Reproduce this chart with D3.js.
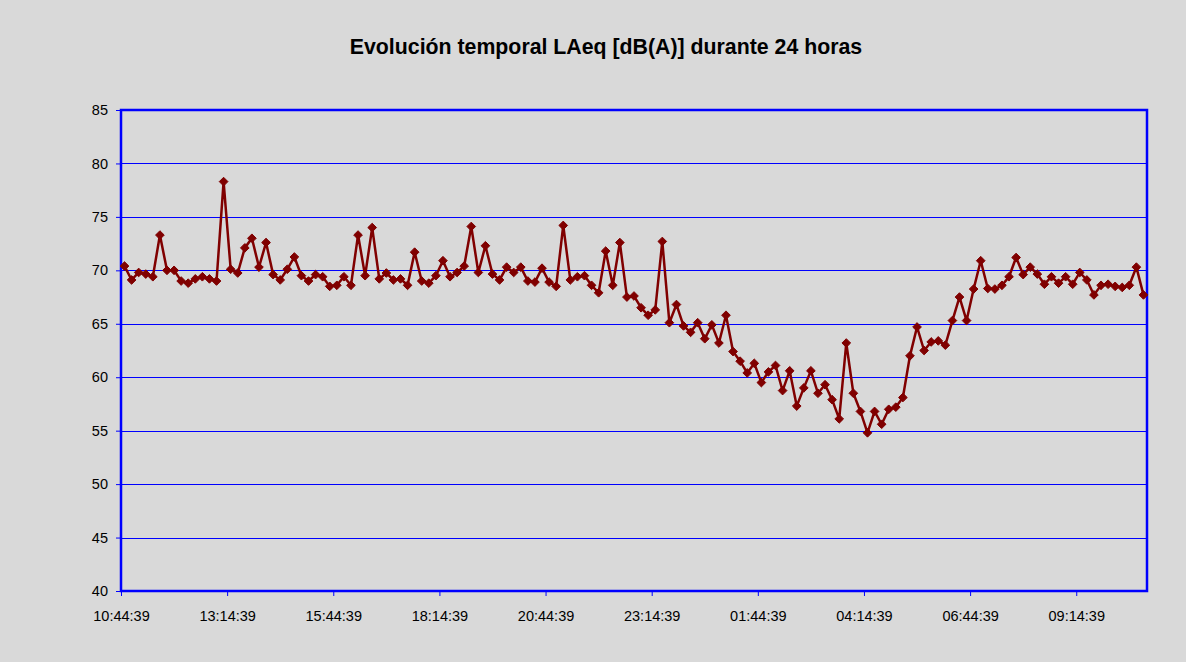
<!DOCTYPE html>
<html>
<head>
<meta charset="utf-8">
<script src="https://cdn.jsdelivr.net/npm/d3@7"></script>
<style>
  body { margin: 0; background: #d9d9d9; }
  svg { display: block; font-family: "Liberation Sans", Arial, sans-serif; }
</style>
</head>
<body>
<svg width="1186" height="662"></svg>
<script>
// LAeq every 10 min, 145 samples starting at 10:44:39
const laeq = [
  70.4, 69.1, 69.8, 69.65, 69.4, 73.3, 70.0, 70.0, 69.0, 68.8,
  69.2, 69.4, 69.2, 69.0, 78.3, 70.1, 69.75, 72.1, 73.0, 70.3,
  72.6, 69.6, 69.1, 70.1, 71.25, 69.5, 69.0, 69.6, 69.4, 68.5,
  68.6, 69.4, 68.6, 73.3, 69.5, 74.0, 69.2, 69.75, 69.1, 69.2,
  68.6, 71.7, 69.0, 68.8, 69.5, 70.9, 69.4, 69.8, 70.4, 74.1,
  69.8, 72.3, 69.65, 69.1, 70.3, 69.8, 70.3, 69.0, 68.9, 70.2,
  68.9, 68.5, 74.2, 69.1, 69.4, 69.5, 68.6, 67.9, 71.8, 68.6,
  72.6, 67.5, 67.6, 66.5, 65.8, 66.3, 72.7, 65.1, 66.8, 64.8,
  64.2, 65.1, 63.6, 64.9, 63.2, 65.8, 62.4, 61.5, 60.4, 61.3,
  59.5, 60.5, 61.1, 58.75, 60.6, 57.3, 59.0, 60.6, 58.5, 59.3,
  57.9, 56.1, 63.2, 58.5, 56.8, 54.8, 56.8, 55.6, 57.0, 57.2,
  58.1, 62.0, 64.7, 62.5, 63.3, 63.4, 63.0, 65.3, 67.5, 65.3,
  68.25, 70.9, 68.3, 68.25, 68.6, 69.4, 71.2, 69.6, 70.3, 69.65,
  68.7, 69.4, 68.8, 69.4, 68.7, 69.8, 69.1, 67.7, 68.6, 68.7,
  68.5, 68.4, 68.6, 70.3, 67.7
];

const tickLabels = ["10:44:39", "13:14:39", "15:44:39", "18:14:39", "20:44:39",
                    "23:14:39", "01:44:39", "04:14:39", "06:44:39", "09:14:39"];
const labelStep = 15;
const yTicks = [40, 45, 50, 55, 60, 65, 70, 75, 80, 85];
const title = "Evolución temporal LAeq [dB(A)] durante 24 horas";

const svg = d3.select('svg');
const plotL = 121, plotR = 1147, plotT = 110, plotB = 591;

const x = d3.scaleBand()
    .domain(d3.range(laeq.length))
    .range([plotL, plotR]);

const y = d3.scaleLinear()
    .domain([40, 85])
    .range([plotB, plotT]);

svg.append('text')
    .attr('x', 606)
    .attr('y', 54)
    .attr('text-anchor', 'middle')
    .attr('font-size', '21.3px')
    .attr('font-weight', 'bold')
    .attr('fill', '#000')
    .text(title);

// gridlines
svg.append('g')
  .selectAll('line')
  .data(yTicks.slice(1, -1))
  .enter().append('line')
    .attr('x1', plotL).attr('x2', plotR)
    .attr('y1', d => Math.round(y(d)) + 0.5)
    .attr('y2', d => Math.round(y(d)) + 0.5)
    .attr('stroke', '#0000ff')
    .attr('stroke-width', 1);

// y axis
const yAxis = svg.append('g')
    .attr('transform', `translate(${plotL},0)`)
    .call(d3.axisLeft(y).tickValues(yTicks).tickSize(5).tickPadding(8));
yAxis.select('.domain').remove();
yAxis.selectAll('line').attr('stroke', '#0000ff');
yAxis.selectAll('text').attr('font-size', '14.5px').attr('fill', '#000')
    .attr('font-family', '"Liberation Sans", Arial, sans-serif');

// x axis: ticks on category boundaries every 15
const xTickVals = tickLabels.map((d, i) => i * labelStep);
const xAxis = svg.append('g')
    .attr('transform', `translate(0,${plotB})`)
    .call(d3.axisBottom(d3.scaleLinear().domain([0, laeq.length]).range([plotL, plotR]))
        .tickValues(xTickVals)
        .tickFormat((d, i) => tickLabels[i])
        .tickSize(5).tickPadding(15));
xAxis.select('.domain').remove();
xAxis.selectAll('line').attr('stroke', '#0000ff');
xAxis.selectAll('text').attr('font-size', '14.5px').attr('fill', '#000')
    .attr('font-family', '"Liberation Sans", Arial, sans-serif');

// plot frame
svg.append('rect')
    .attr('x', plotL).attr('y', plotT)
    .attr('width', plotR - plotL).attr('height', plotB - plotT)
    .attr('fill', 'none')
    .attr('stroke', '#0000ff')
    .attr('stroke-width', 2.5);

const cx = (d, i) => x(i) + x.bandwidth() / 2;

const line = d3.line()
    .x((d, i) => cx(d, i))
    .y(d => y(d));

svg.append('path')
    .datum(laeq)
    .attr('d', line)
    .attr('fill', 'none')
    .attr('stroke', '#800000')
    .attr('stroke-width', 2.5);

svg.append('g')
  .selectAll('path')
  .data(laeq)
  .enter().append('path')
    .attr('transform', (d, i) => `translate(${cx(d, i)},${y(d)})`)
    .attr('d', d3.symbol().type(d3.symbolDiamond2).size(48))
    .attr('fill', '#800000')
    .attr('stroke', '#800000')
    .attr('stroke-width', 1);
</script>
</body>
</html>
